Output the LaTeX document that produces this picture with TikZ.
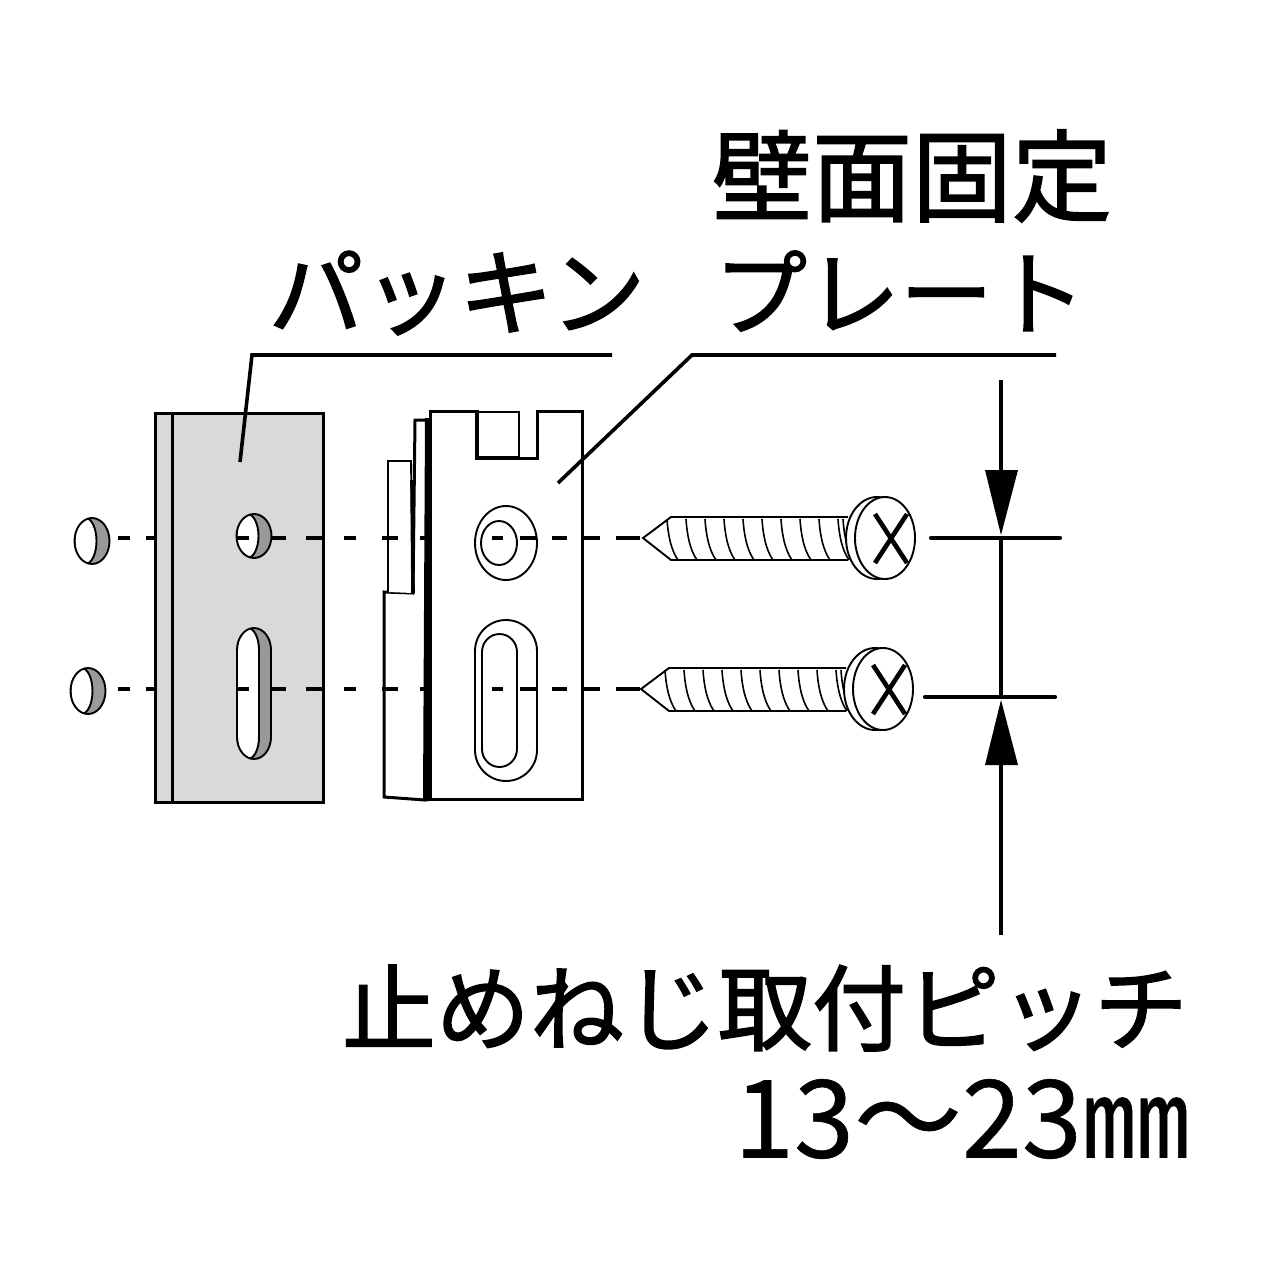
\documentclass[tikz,border=0pt]{standalone}
\usepackage{fontspec}
\newfontfamily\cjk[FakeBold=1.6]{Noto Sans CJK JP}
\newfontfamily\cjknum[FakeBold=0.5]{Noto Sans CJK JP}
\tikzset{
  part/.style={draw=black,line width=3pt},
  fine/.style={draw=black,line width=1.9pt},
  centerdash/.style={draw=black,line width=4pt},
  leaderline/.style={draw=black,line width=3.6pt},
  dimline/.style={draw=black,line width=4.2pt},
  label/.style={inner sep=0pt,outer sep=0pt,font=\cjk\fontsize{94}{94}\selectfont},
}
\definecolor{packing}{gray}{0.85}
\definecolor{holegray}{gray}{0.6}
\newcommand{\holeround}[3]{% cx cy (outer centre), ry
  \fill[holegray] (#1,#2) ellipse [x radius=17.5,y radius=#3];
  \begin{scope}
    \clip (#1,#2) ellipse [x radius=17.5,y radius=#3];
    \fill[white] (#1-6.5,#2) ellipse [x radius=11,y radius=#3];
    \draw[fine] (#1-6.5,#2) ellipse [x radius=11,y radius=#3];
  \end{scope}
  \draw[fine] (#1,#2) ellipse [x radius=17.5,y radius=#3];
}
\newcommand{\screw}[2]{%
  \begin{scope}[shift={(#1,#2)}]
    \draw[fine,fill=white] (848,517) -- (671,517) -- (643,538) -- (671,560) -- (848,560);
    \foreach \t in {667,686,705,724,743,762,781,800,819,838,843}
      \draw[line width=1.6pt] (\t,519) .. controls (\t+1,535) and (\t+4,550) .. (\t+11,560);
    \draw[fine,fill=white] (877,538) ellipse [x radius=31,y radius=41];
    \draw[fine,fill=white] (885,538) ellipse [x radius=30,y radius=41];
    \draw[line width=4.6pt] (875,514) -- (907,563) (907,514) -- (875,563);
  \end{scope}
}
\begin{document}
\begin{tikzpicture}[x=1pt,y=-1pt]
\useasboundingbox (0,0) rectangle (1280,1280);
\fill[white] (0,0) rectangle (1280,1280);

% packing
\draw[part,fill=packing] (155,413) rectangle (323,802);
\draw[part] (172,413) -- (172,802);
\holeround{254}{536}{22}
\holeround{92}{541}{23}
\holeround{88}{691}{23}
% slot in packing
\fill[holegray] (237,650) arc[start angle=180,end angle=360,x radius=17,y radius=22]
  -- (271,737) arc[start angle=0,end angle=180,x radius=17,y radius=22] -- cycle;
\begin{scope}
  \clip (237,650) arc[start angle=180,end angle=360,x radius=17,y radius=22]
  -- (271,737) arc[start angle=0,end angle=180,x radius=17,y radius=22] -- cycle;
  \fill[white,draw=black,line width=1.9pt] (237,650) arc[start angle=180,end angle=360,x radius=11,y radius=22]
  -- (259,737) arc[start angle=0,end angle=180,x radius=11,y radius=22] -- cycle;
\end{scope}
\draw[fine] (237,650) arc[start angle=180,end angle=360,x radius=17,y radius=22]
  -- (271,737) arc[start angle=0,end angle=180,x radius=17,y radius=22] -- cycle;

% plate
\draw[part,fill=white] (415,420) -- (430,420) -- (430,799) -- (425,800) -- (384,797) -- (384,592) -- (413,593) -- cycle;
\draw[fine,fill=white] (388,592) -- (388,461) -- (411,461) -- (413,593);
\draw[line width=3.6pt] (412,480) -- (413,593);
\draw[part,fill=white] (430,411) -- (477,411) -- (477,458) -- (537,458) -- (537,411) -- (582,411) -- (582,799) -- (430,799) -- cycle;
\draw[line width=4.5pt] (477,411) -- (477,458) -- (519,458);
\draw[fine] (477,412) -- (519,412) -- (519,458);
\draw[line width=6pt] (428,418) -- (426,801);
\draw[fine] (506,543) ellipse [x radius=31,y radius=37];
\draw[fine] (499,543) ellipse [x radius=18,y radius=22];
\draw[fine] (475,651) arc[start angle=180,end angle=360,x radius=31,y radius=31]
  -- (537,750) arc[start angle=0,end angle=180,x radius=31,y radius=31] -- cycle;
\draw[fine] (482,652) arc[start angle=180,end angle=360,x radius=17.5,y radius=18]
  -- (517,749) arc[start angle=0,end angle=180,x radius=17.5,y radius=18] -- cycle;

% centre lines
\foreach \yy in {538,689} {
  \foreach \a/\b in {118/130,146/155,237/249,271/286,306/322,344/356,382/398,420/427,492/503,520/536,552/567,583/600,616/640}
    \draw[centerdash] (\a,\yy) -- (\b,\yy);
}

% screws
\screw{0}{0}
\screw{-2}{151}

% dimension
\coordinate (dT) at (1001,380);
\coordinate (dB) at (1001,935);
\draw[dimline] (dT) -- (1001,480);
\draw[dimline] (1001,538) -- (1001,697);
\draw[dimline] (1001,760) -- (dB);
\fill[black] (985,470) -- (1018,470) -- (1001,535) -- cycle;
\fill[black] (985,765) -- (1018,765) -- (1001,700) -- cycle;
\draw[dimline,line cap=round] (931,538) -- (1060,538);
\draw[dimline,line cap=round] (925,697) -- (1055,697);

% leaders
\coordinate (l1) at (240,462);
\draw[leaderline] (l1) -- (252,355) -- (612,355);
\coordinate (l2) at (558,483);
\draw[leaderline] (l2) -- (692,355) -- (1056,355);

% labels
\node[label,anchor=center] (pk) at (457,293) {\fontsize{95}{95}\selectfont パッキン};
\node[label,anchor=center] (wall) at (912,176) {\fontsize{100}{100}\selectfont 壁面固定};
\node[label,anchor=center] (pl) at (900,291) {\fontsize{93}{93}\selectfont プレート};
\node[label,anchor=center] (st) at (765,1008) {止めねじ取付ピッチ};
\node[label,anchor=center] (pt) at (962,1119) {\cjknum\fontsize{108}{108}\selectfont 13〜23㎜};
\end{tikzpicture}
\end{document}
